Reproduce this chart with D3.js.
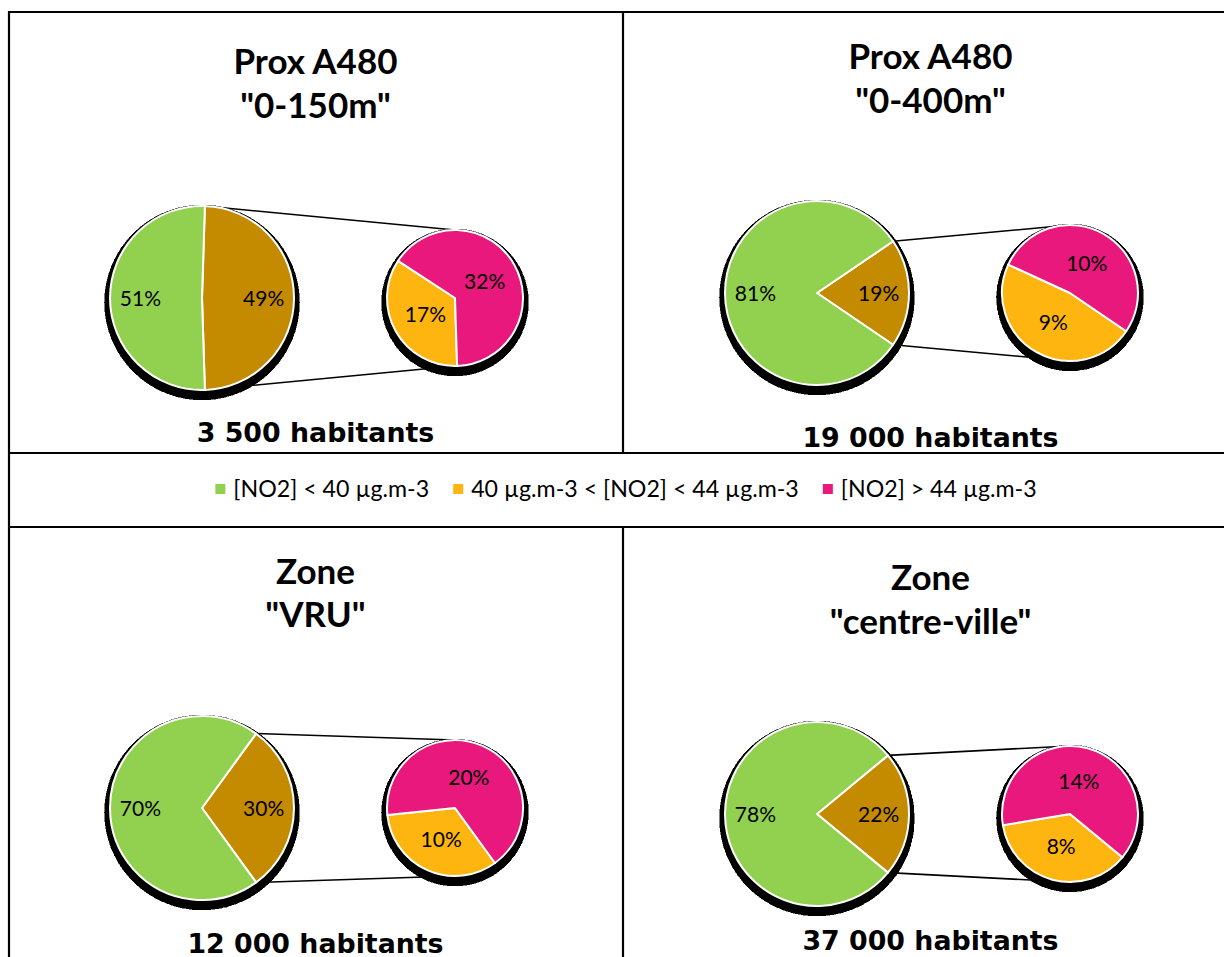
<!DOCTYPE html>
<html>
<head>
<meta charset="utf-8">
<script src="https://cdn.jsdelivr.net/npm/d3@7"></script>
<style>
  body { margin: 0; background: #fff; }
  svg { display: block; }
</style>
</head>
<body>
<svg id="chart" width="1224" height="957"></svg>
<script>
// ---- data -------------------------------------------------------------
const titleLine1 = ["Prox A480", "Prox A480", "Zone", "Zone"];
const titleLine2 = ['"0-150m"', '"0-400m"', '"VRU"', '"centre-ville"'];
const populations = ["3 500 habitants", "19 000 habitants", "12 000 habitants", "37 000 habitants"];
// share of inhabitants (%) per NO2 class
const below40 = [51, 81, 70, 78];
const from40to44 = [17, 9, 10, 8];
const above44 = [32, 10, 20, 14];
const legendLabels = ["[NO2] < 40 µg.m-3", "40 µg.m-3 < [NO2] < 44 µg.m-3", "[NO2] > 44 µg.m-3"];

// ---- styles -----------------------------------------------------------
const GREEN = "#92D050", ORANGE = "#FFB50F", PINK = "#E8187C", BROWN = "#C48A00";
const legendColors = [GREEN, ORANGE, PINK];
const TITLE_FONT = "Lato, 'Open Sans', sans-serif";
const LABEL_FONT = "Lato, 'Open Sans', sans-serif";
const POP_FONT = "'DejaVu Sans', Verdana, sans-serif";

// ---- layout -----------------------------------------------------------
const panelLayout = [
  { x0: 8,   pieY: 298, t1: 74,  t2: 118, popY: 442 },
  { x0: 623, pieY: 293, t1: 69,  t2: 113, popY: 447 },
  { x0: 8,   pieY: 808, t1: 584, t2: 627, popY: 953 },
  { x0: 623, pieY: 814, t1: 590, t2: 634, popY: 950 }
];
const BIG_R = 92, SMALL_R = 68;
const SHADOW_GROW = 5.5, SHADOW_DY = 4.5;

const svg = d3.select("#chart");

// ---- frame ------------------------------------------------------------
const frame = svg.append("g").attr("stroke", "#000").attr("stroke-width", 2.2);
[[8, 12, 1224, 12], [9, 11, 9, 957], [8, 453, 1224, 453], [8, 527, 1224, 527],
 [623, 12, 623, 453], [623, 527, 623, 957]].forEach(([x1, y1, x2, y2]) =>
  frame.append("line").attr("x1", x1).attr("y1", y1).attr("x2", x2).attr("y2", y2));

// ---- panels -----------------------------------------------------------
const pieGen = start => d3.pie().sort(null).value(d => d.v)
  .startAngle(start).endAngle(start + 2 * Math.PI);

panelLayout.forEach((L, i) => {
  const g = svg.append("g");
  const other = from40to44[i] + above44[i];
  const frac = other / (other + below40[i]);

  const bigStart = Math.PI / 2 - Math.PI * frac;
  const bigSlices = pieGen(bigStart)([{ v: other, c: BROWN }, { v: below40[i], c: GREEN }]);
  const smallStart = Math.PI / 2 + Math.PI * frac;
  const smallSlices = pieGen(smallStart)([{ v: from40to44[i], c: ORANGE }, { v: above44[i], c: PINK }]);

  const bx = L.x0 + 194, sx = L.x0 + 447, cy = L.pieY;
  const tx = L.x0 + 307.5;

  // titles
  [[titleLine1[i], L.t1], [titleLine2[i], L.t2]].forEach(([t, y]) =>
    g.append("text").attr("x", tx).attr("y", y).attr("text-anchor", "middle")
      .attr("font-family", TITLE_FONT).attr("font-weight", 700).attr("font-size", 35)
      .attr("fill", "#000").text(t));

  // population
  g.append("text").attr("x", tx).attr("y", L.popY).attr("text-anchor", "middle")
    .attr("font-family", POP_FONT).attr("font-weight", 700).attr("font-size", 26.8)
    .attr("fill", "#000").text(populations[i]);

  // connector lines from the aggregated slice to the secondary pie
  const onBig = a => [bx + BIG_R * Math.sin(a), cy - BIG_R * Math.cos(a)];
  const pTop = onBig(bigSlices[0].startAngle), pBot = onBig(bigSlices[0].endAngle);
  [[pTop, [sx, cy - SMALL_R]], [pBot, [sx, cy + SMALL_R]]].forEach(([a, b]) =>
    g.append("line").attr("x1", a[0]).attr("y1", a[1]).attr("x2", b[0]).attr("y2", b[1])
      .attr("stroke", "#000").attr("stroke-width", 1.6));

  const drawPie = (slices, cx, r, labelK) => {
    // hard black drop shadow, one piece per slice
    const shadowArc = d3.arc().innerRadius(0).outerRadius(r + SHADOW_GROW);
    g.append("g").attr("transform", `translate(${cx},${cy + SHADOW_DY})`)
      .selectAll("path").data(slices).join("path")
      .attr("d", shadowArc).attr("fill", "#000")
      .attr("stroke", "#000").attr("stroke-width", 0.5)
      .attr("shape-rendering", "crispEdges");

    const arc = d3.arc().innerRadius(0).outerRadius(r);
    const pg = g.append("g").attr("transform", `translate(${cx},${cy})`);
    pg.selectAll("path").data(slices).join("path")
      .attr("d", arc).attr("fill", d => d.data.c)
      .attr("stroke", "#fff").attr("stroke-width", 2).attr("stroke-linejoin", "round");

    const labelArc = d3.arc().innerRadius(r * labelK).outerRadius(r * labelK);
    pg.selectAll("text").data(slices).join("text")
      .attr("transform", d => `translate(${labelArc.centroid(d)})`)
      .attr("text-anchor", "middle").attr("dy", "0.36em")
      .attr("font-family", LABEL_FONT).attr("font-size", 21).attr("fill", "#000")
      .text(d => `${d.data.v}%`);
  };

  drawPie(bigSlices, bx, BIG_R, 0.67);
  drawPie(smallSlices, sx, SMALL_R, 0.5);
});

// ---- legend -----------------------------------------------------------
const legend = svg.append("g");
const items = legend.selectAll("g").data(legendLabels).join("g");
items.append("rect").attr("width", 10).attr("height", 10).attr("y", 484)
  .attr("fill", (d, k) => legendColors[k]);
items.append("text").attr("y", 497).attr("font-family", LABEL_FONT)
  .attr("font-size", 23.2).attr("fill", "#000").text(d => d);
let cursor = 0;
const starts = [];
items.each(function () {
  const w = d3.select(this).select("text").node().getComputedTextLength();
  starts.push(cursor);
  cursor += 18 + w + 24;
});
const legendWidth = cursor - 24;
const legendX0 = 626 - legendWidth / 2;
items.each(function (d, k) {
  const s = d3.select(this);
  s.select("rect").attr("x", legendX0 + starts[k]);
  s.select("text").attr("x", legendX0 + starts[k] + 18);
});
</script>
</body>
</html>
